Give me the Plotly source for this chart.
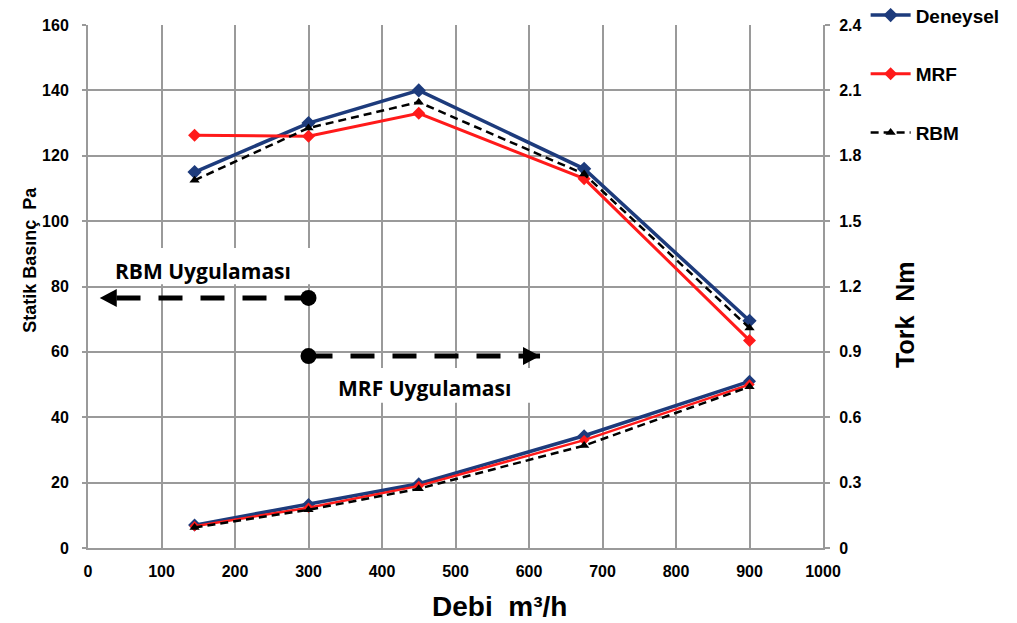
import plotly.graph_objects as go

debi = [145, 300, 450, 675, 900]

# Static pressure (Pa) - left axis
p_deneysel = [115, 130, 140, 116, 69.5]
p_mrf = [126.3, 126, 133, 113, 63.5]
p_rbm = [112.5, 128.5, 136.4, 114.4, 67.3]

# Torque (Nm) - right axis
t_deneysel = [0.105, 0.20, 0.295, 0.515, 0.765]
t_mrf = [0.10, 0.185, 0.285, 0.495, 0.75]
t_rbm = [0.094, 0.175, 0.272, 0.47, 0.74]

# Region indicators (start at 300 m3/h, arrow tip at end)
rbm_arrow_x = [300, 16]
rbm_arrow_y = [76.5, 76.5]
mrf_arrow_x = [300, 615]
mrf_arrow_y = [58.7, 58.7]

left_ticks = [0, 20, 40, 60, 80, 100, 120, 140, 160]
right_ticks = [0, 0.3, 0.6, 0.9, 1.2, 1.5, 1.8, 2.1, 2.4]
right_ticktext = ["0", "0.3", "0.6", "0.9", "1.2", "1.5", "1.8", "2.1", "2.4"]
x_ticks = [0, 100, 200, 300, 400, 500, 600, 700, 800, 900, 1000]

NAVY = "#1d3b7c"
RED = "#ff1a1a"
BLACK = "#000000"
FONT = "Liberation Sans, Arial"
LABELFONT = "Open Sans, Noto Sans, Arial"
GRID = "#9a9a9a"

fig = go.Figure()

fig.add_trace(go.Scatter(x=debi, y=p_deneysel, mode="lines+markers", name="Deneysel",
                         legendgroup="a",
                         line=dict(color=NAVY, width=3.5),
                         marker=dict(symbol="diamond", size=11, color=NAVY)))
fig.add_trace(go.Scatter(x=debi, y=p_mrf, mode="lines+markers", name="MRF",
                         legendgroup="b",
                         line=dict(color=RED, width=3),
                         marker=dict(symbol="diamond", size=10, color=RED)))
fig.add_trace(go.Scatter(x=debi, y=p_rbm, mode="lines+markers", name="RBM",
                         legendgroup="c",
                         line=dict(color=BLACK, width=2.5, dash="8px,5px"),
                         marker=dict(symbol="triangle-up", size=9, color=BLACK)))

fig.add_trace(go.Scatter(x=debi, y=t_deneysel, mode="lines+markers", yaxis="y2",
                         showlegend=False,
                         line=dict(color=NAVY, width=3.5),
                         marker=dict(symbol="diamond", size=10, color=NAVY)))
fig.add_trace(go.Scatter(x=debi, y=t_mrf, mode="lines+markers", yaxis="y2",
                         showlegend=False,
                         line=dict(color=RED, width=2.5),
                         marker=dict(symbol="diamond", size=8, color=RED)))
fig.add_trace(go.Scatter(x=debi, y=t_rbm, mode="lines+markers", yaxis="y2",
                         showlegend=False,
                         line=dict(color=BLACK, width=2.5, dash="8px,5px"),
                         marker=dict(symbol="triangle-up", size=9, color=BLACK)))

# Region arrows: dashed line + solid circle at start + arrowhead at tip
for ax_, ay_, direction in [(rbm_arrow_x, rbm_arrow_y, -1), (mrf_arrow_x, mrf_arrow_y, 1)]:
    fig.add_trace(go.Scatter(x=ax_, y=ay_, mode="lines", showlegend=False, hoverinfo="skip",
                             line=dict(color=BLACK, width=5, dash="24px,18px")))
    fig.add_shape(type="circle", xref="x", yref="y", xsizemode="pixel", ysizemode="pixel",
                  xanchor=ax_[0], yanchor=ay_[0], x0=-8, x1=8, y0=-8, y1=8,
                  fillcolor=BLACK, line=dict(width=0), layer="above")
    b = -17 * direction
    fig.add_shape(type="path", xref="x", yref="y", xsizemode="pixel", ysizemode="pixel",
                  xanchor=ax_[1], yanchor=ay_[1],
                  path=f"M 0 0 L {b} 9 L {b} -9 Z",
                  fillcolor=BLACK, line=dict(width=0), layer="above")

# white label boxes (cover gridlines)
fig.add_shape(type="rect", xref="x", yref="y", x0=-6, x1=356, y0=80.7, y1=91.8,
              fillcolor="white", line=dict(width=0), layer="above")
fig.add_shape(type="rect", xref="x", yref="y", x0=303, x1=608, y0=44.4, y1=55.1,
              fillcolor="white", line=dict(width=0), layer="above")

fig.add_annotation(x=156, y=84.7, xref="x", yref="y", text="<b>RBM Uygulaması</b>",
                   showarrow=False, xanchor="center", yanchor="middle",
                   font=dict(family=LABELFONT, size=21, color=BLACK))
fig.add_annotation(x=458, y=48.9, xref="x", yref="y", text="<b>MRF Uygulaması</b>",
                   showarrow=False, xanchor="center", yanchor="middle",
                   font=dict(family=LABELFONT, size=21, color=BLACK))

# Axis titles
fig.add_annotation(x=-0.079, y=0.551, xref="paper", yref="paper", text="<b>Statik Basınç  Pa</b>",
                   showarrow=False, textangle=-90, xanchor="center", yanchor="middle",
                   font=dict(family=FONT, size=18, color=BLACK))
fig.add_annotation(x=1.1116, y=0.4455, xref="paper", yref="paper", text="<b>Tork  Nm</b>",
                   showarrow=False, textangle=-90, xanchor="center", yanchor="middle",
                   font=dict(family=FONT, size=25, color=BLACK))
fig.add_annotation(x=0.5605, y=-0.111, xref="paper", yref="paper", text="<b>Debi  m³/h</b>",
                   showarrow=False, xanchor="center", yanchor="middle",
                   font=dict(family=FONT, size=28, color=BLACK))

tickfont = dict(family=FONT, size=16, color=BLACK, weight="bold")

# The page body adds an 8px offset; margins compensate so the plot sits at (88, 25)
fig.update_layout(
    width=1009, height=615,
    paper_bgcolor="white", plot_bgcolor="white",
    margin=dict(l=80, r=194, t=17, b=75, autoexpand=False),
    font=dict(family=FONT, color=BLACK),
    showlegend=True,
    legend=dict(x=1.058, y=1.055, xanchor="left", yanchor="top",
                font=dict(family=FONT, size=19, color=BLACK, weight="bold"),
                tracegroupgap=31, itemwidth=40, bgcolor="rgba(0,0,0,0)"),
    xaxis=dict(range=[0, 1000], tickvals=x_ticks, showgrid=True, gridcolor=GRID, gridwidth=2,
               showline=True, linecolor=GRID, linewidth=2, zeroline=False,
               ticks="", tickfont=tickfont, ticklabelstandoff=8),
    yaxis=dict(range=[0, 160], tickvals=left_ticks, showgrid=True, gridcolor=GRID, gridwidth=2,
               showline=True, linecolor=GRID, linewidth=2, zeroline=False,
               ticks="outside", ticklen=4, tickcolor=GRID, tickwidth=2,
               tickfont=tickfont, ticklabelstandoff=10),
    yaxis2=dict(range=[0, 2.4], tickvals=right_ticks, ticktext=right_ticktext, overlaying="y",
                side="right", showgrid=False, zeroline=False,
                showline=True, linecolor=GRID, linewidth=2,
                ticks="outside", ticklen=5, tickcolor=GRID, tickwidth=2,
                tickfont=tickfont, ticklabelstandoff=6),
)

fig.write_html("out.html")
